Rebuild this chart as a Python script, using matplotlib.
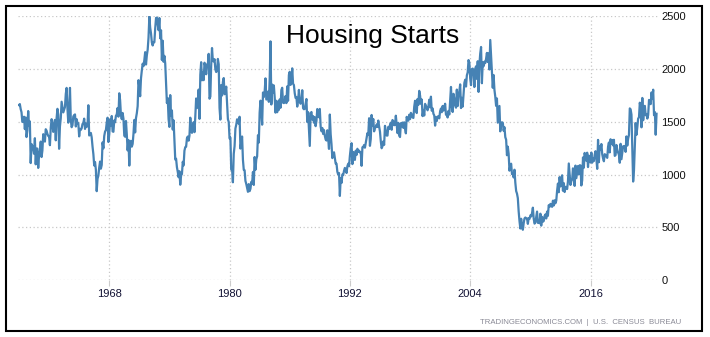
import numpy as np
import matplotlib
matplotlib.use('Agg')
import matplotlib.pyplot as plt
from matplotlib import font_manager
from matplotlib.patches import Rectangle

# monthly housing starts, thousands of units (SAAR), Jan 1959 - Aug 2022
start_year = 1959
starts = {
1959: [1657, 1667, 1620, 1590, 1498, 1503, 1547, 1430, 1540, 1355, 1416, 1601],
1960: [1460, 1503, 1109, 1289, 1271, 1247, 1197, 1344, 1097, 1246, 1246, 1063],
1961: [1183, 1226, 1312, 1166, 1228, 1382, 1335, 1312, 1429, 1415, 1385, 1365],
1962: [1361, 1278, 1443, 1524, 1483, 1404, 1450, 1517, 1324, 1533, 1622, 1564],
1963: [1244, 1456, 1534, 1689, 1641, 1588, 1614, 1639, 1763, 1820, 1622, 1491],
1964: [1603, 1820, 1517, 1448, 1467, 1550, 1562, 1569, 1455, 1524, 1486, 1484],
1965: [1361, 1433, 1423, 1438, 1478, 1488, 1529, 1432, 1482, 1452, 1460, 1656],
1966: [1370, 1378, 1394, 1352, 1265, 1194, 1086, 1119, 1046, 843, 961, 990],
1967: [1067, 1123, 1056, 1091, 1304, 1248, 1364, 1407, 1421, 1491, 1538, 1308],
1968: [1380, 1520, 1466, 1554, 1408, 1405, 1512, 1495, 1556, 1569, 1630, 1548],
1969: [1769, 1705, 1561, 1524, 1583, 1528, 1368, 1358, 1507, 1381, 1229, 1327],
1970: [1085, 1305, 1319, 1264, 1290, 1385, 1517, 1399, 1534, 1580, 1647, 1893],
1971: [1828, 1741, 1910, 1986, 2049, 2026, 2083, 2158, 2041, 2128, 2182, 2295],
1972: [2494, 2390, 2334, 2249, 2221, 2254, 2252, 2382, 2481, 2485, 2421, 2366],
1973: [2481, 2289, 2365, 2084, 2266, 2067, 2123, 2051, 1874, 1677, 1724, 1526],
1974: [1451, 1752, 1555, 1607, 1426, 1513, 1316, 1142, 1150, 1070, 1026, 975],
1975: [1032, 904, 993, 1005, 1121, 1087, 1226, 1260, 1264, 1344, 1360, 1321],
1976: [1367, 1538, 1421, 1395, 1459, 1495, 1401, 1550, 1720, 1629, 1641, 1804],
1977: [1527, 1943, 2063, 1892, 1971, 1893, 2058, 2020, 1949, 2042, 2042, 2142],
1978: [1718, 1738, 2032, 2197, 2075, 2070, 2092, 1996, 1970, 1981, 2094, 2044],
1979: [1630, 1520, 1847, 1748, 1876, 1913, 1760, 1778, 1832, 1681, 1524, 1498],
1980: [1341, 1350, 1047, 1051, 927, 1196, 1269, 1436, 1471, 1523, 1510, 1482],
1981: [1547, 1246, 1306, 1360, 1140, 1045, 1041, 940, 911, 873, 837, 910],
1982: [843, 866, 931, 917, 1025, 902, 1166, 1046, 1144, 1173, 1372, 1303],
1983: [1586, 1699, 1606, 1472, 1776, 1733, 1785, 1910, 1710, 1715, 1785, 1688],
1984: [1897, 2260, 1663, 1851, 1774, 1843, 1732, 1586, 1698, 1590, 1689, 1612],
1985: [1711, 1632, 1800, 1821, 1680, 1676, 1684, 1743, 1676, 1834, 1698, 1942],
1986: [1972, 1848, 1876, 2005, 1859, 1847, 1770, 1725, 1732, 1643, 1701, 1801],
1987: [1692, 1670, 1690, 1798, 1628, 1618, 1622, 1669, 1715, 1497, 1591, 1423],
1988: [1271, 1580, 1592, 1521, 1553, 1491, 1542, 1458, 1509, 1620, 1557, 1542],
1989: [1621, 1456, 1410, 1441, 1384, 1421, 1367, 1332, 1322, 1419, 1344, 1243],
1990: [1568, 1382, 1288, 1156, 1185, 1211, 1155, 1104, 1103, 1027, 1001, 1015],
1991: [798, 965, 921, 1001, 996, 1036, 1063, 1049, 1015, 1079, 1103, 1079],
1992: [1176, 1250, 1297, 1099, 1214, 1145, 1139, 1226, 1186, 1244, 1214, 1227],
1993: [1210, 1210, 1083, 1258, 1260, 1280, 1254, 1300, 1343, 1392, 1376, 1533],
1994: [1272, 1337, 1564, 1465, 1526, 1409, 1439, 1450, 1474, 1450, 1511, 1455],
1995: [1407, 1316, 1249, 1267, 1314, 1281, 1461, 1416, 1369, 1369, 1452, 1431],
1996: [1467, 1491, 1424, 1516, 1504, 1467, 1472, 1557, 1475, 1392, 1489, 1370],
1997: [1355, 1486, 1457, 1492, 1442, 1494, 1437, 1390, 1546, 1520, 1510, 1566],
1998: [1525, 1584, 1567, 1540, 1536, 1641, 1698, 1614, 1582, 1715, 1660, 1792],
1999: [1748, 1670, 1710, 1553, 1611, 1559, 1669, 1648, 1635, 1608, 1648, 1708],
2000: [1636, 1737, 1604, 1626, 1575, 1559, 1463, 1541, 1507, 1549, 1551, 1532],
2001: [1600, 1625, 1590, 1649, 1605, 1636, 1670, 1567, 1562, 1540, 1602, 1568],
2002: [1698, 1829, 1642, 1592, 1764, 1717, 1655, 1633, 1804, 1648, 1753, 1788],
2003: [1853, 1629, 1726, 1643, 1751, 1867, 1897, 1833, 1939, 1967, 2083, 2057],
2004: [1911, 1846, 1998, 2003, 1981, 1828, 2002, 2024, 1905, 2072, 1782, 2042],
2005: [2144, 2207, 1864, 2061, 2025, 2068, 2054, 2095, 2151, 2065, 2147, 1994],
2006: [2273, 2119, 1969, 1821, 1942, 1802, 1737, 1650, 1720, 1491, 1570, 1649],
2007: [1409, 1480, 1495, 1490, 1415, 1448, 1354, 1330, 1183, 1264, 1197, 1037],
2008: [1084, 1103, 1005, 1013, 973, 1046, 923, 844, 820, 777, 652, 560],
2009: [490, 582, 505, 478, 540, 585, 594, 586, 585, 534, 588, 581],
2010: [614, 604, 636, 687, 583, 536, 546, 599, 650, 543, 545, 539],
2011: [630, 517, 600, 554, 561, 608, 623, 585, 650, 610, 711, 694],
2012: [723, 704, 695, 753, 708, 757, 728, 754, 847, 915, 833, 976],
2013: [888, 962, 993, 847, 919, 835, 883, 883, 863, 936, 1105, 1003],
2014: [902, 938, 953, 1059, 989, 893, 1085, 966, 1024, 1081, 1002, 1088],
2015: [1087, 897, 944, 1162, 1065, 1205, 1146, 1131, 1207, 1071, 1179, 1149],
2016: [1114, 1208, 1113, 1155, 1128, 1187, 1221, 1150, 1054, 1328, 1117, 1268],
2017: [1236, 1289, 1193, 1153, 1126, 1193, 1185, 1172, 1158, 1265, 1303, 1210],
2018: [1334, 1290, 1327, 1276, 1329, 1177, 1184, 1280, 1237, 1209, 1187, 1112],
2019: [1291, 1145, 1203, 1267, 1270, 1262, 1215, 1361, 1274, 1340, 1375, 1626],
2020: [1617, 1567, 1269, 934, 1038, 1265, 1487, 1376, 1448, 1530, 1541, 1680],
2021: [1625, 1447, 1725, 1514, 1594, 1650, 1562, 1573, 1530, 1563, 1706, 1678],
2022: [1666, 1777, 1716, 1803, 1562, 1591, 1377, 1575],
}
x_ticks = [1968, 1980, 1992, 2004, 2016]
y_ticks = [0, 500, 1000, 1500, 2000, 2500]

values = [v for yr in sorted(starts) for v in starts[yr]]
dates = start_year + np.arange(len(values)) / 12.0

names = set(f.name for f in font_manager.fontManager.ttflist)
base_font = 'Liberation Sans' if 'Liberation Sans' in names else 'DejaVu Sans'
if 'Liberation Sans Narrow' in names:
    title_font, title_size = 'Liberation Sans Narrow', 23
elif 'DejaVu Sans Condensed' in names:
    title_font, title_size = 'DejaVu Sans Condensed', 19
else:
    title_font, title_size = base_font, 19
plt.rcParams['font.family'] = base_font

W, H = 710, 337
fig = plt.figure(figsize=(W / 100, H / 100), dpi=100)
ax = fig.add_axes([18 / W, 1 - 280.3 / H, (657.7 - 18) / W, (280.3 - 16) / H])

ax.plot(dates, values, color='#4682b4', lw=1.6, solid_joinstyle='round')

ax.set_xlim(1958.9, 2022.7)
ax.set_ylim(0, 2500)
ax.set_xticks(x_ticks)
ax.set_xticklabels([str(t) for t in x_ticks])
ax.set_yticks(y_ticks)
ax.set_yticklabels([str(t) for t in y_ticks])
ax.yaxis.tick_right()
ax.tick_params(axis='y', length=0, pad=2.5, labelsize=8, labelcolor='#111111')
ax.tick_params(axis='x', length=4, width=0.8, color='#cccccc', pad=2,
               labelsize=8, labelcolor='#111133')
ax.grid(True, color='#c8c8c8', linestyle=(0, (1, 2)), linewidth=0.9)
for s in ax.spines.values():
    s.set_visible(False)

ax.text(0.555, 0.925, 'Housing Starts', transform=ax.transAxes,
        ha='center', va='center', fontsize=title_size,
        family=[title_font, 'DejaVu Sans'], color='black')

fig.text(681 / W, 1 - 322 / H, 'TRADINGECONOMICS.COM  |  U.S.  CENSUS  BUREAU',
         ha='right', va='center', fontsize=5.6, color='#8a8a96')

fig.patches.append(Rectangle((5.5 / W, 1 - 330.5 / H), 696.5 / W, 324.5 / H,
                             transform=fig.transFigure, fill=False,
                             edgecolor='black', lw=1.5))

fig.savefig('out.png', dpi=100)
